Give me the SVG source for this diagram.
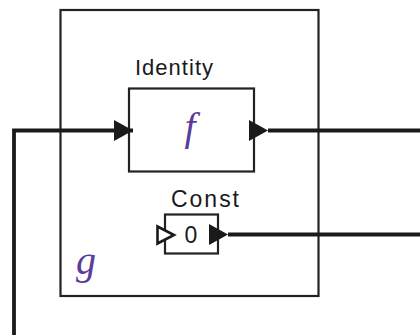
<svg xmlns="http://www.w3.org/2000/svg" width="420" height="335" viewBox="0 0 420 335">
<defs>
<style>
.box{fill:none;stroke:#222;stroke-width:2.2}
.wire{fill:none;stroke:#1a1a1a;stroke-width:3.8}
.lbl{font-family:"Liberation Sans",Arial,sans-serif;fill:#1a1a1a}
.var{font-family:"Liberation Serif","Times New Roman",serif;font-style:italic;fill:#5a3c9c}
</style>
<marker id="arr" markerUnits="userSpaceOnUse" markerWidth="20" markerHeight="22" refX="19" refY="10.5" orient="auto" overflow="visible">
<path d="M0,0 L19,10.5 L0,21 Z" fill="#1a1a1a"/>
</marker>
</defs>
<rect width="420" height="335" fill="#fff"/>
<g id="g">
<rect class="box" x="60.5" y="10" width="258" height="286"/>
<text class="var" x="76" y="274" font-size="40">g</text>
</g>
<g id="identity">
<rect class="box" x="129" y="88.5" width="125" height="83" fill="#fff"/>
<text class="lbl" x="135" y="75" font-size="22" textLength="78" lengthAdjust="spacing">Identity</text>
<text class="var" x="190" y="140" font-size="40" text-anchor="middle">f</text>
</g>
<g id="const">
<rect class="box" x="165" y="214.5" width="53" height="39"/>
<text class="lbl" x="171" y="206.5" font-size="23" textLength="68" lengthAdjust="spacing">Const</text>
<text class="lbl" x="191" y="242.5" font-size="23" text-anchor="middle">0</text>
<polygon points="157.5,226.5 174,235 157.5,243.5" fill="#fff" stroke="#1a1a1a" stroke-width="2.6"/>
</g>
<g id="connectors">
<path class="wire" d="M14,335 V130.5 H133" marker-end="url(#arr)"/>
<path class="wire" d="M268,130.5 H420" marker-start="url(#arr)"/>
<path class="wire" d="M228,234.5 H420" marker-start="url(#arr)"/>
</g>
</svg>
